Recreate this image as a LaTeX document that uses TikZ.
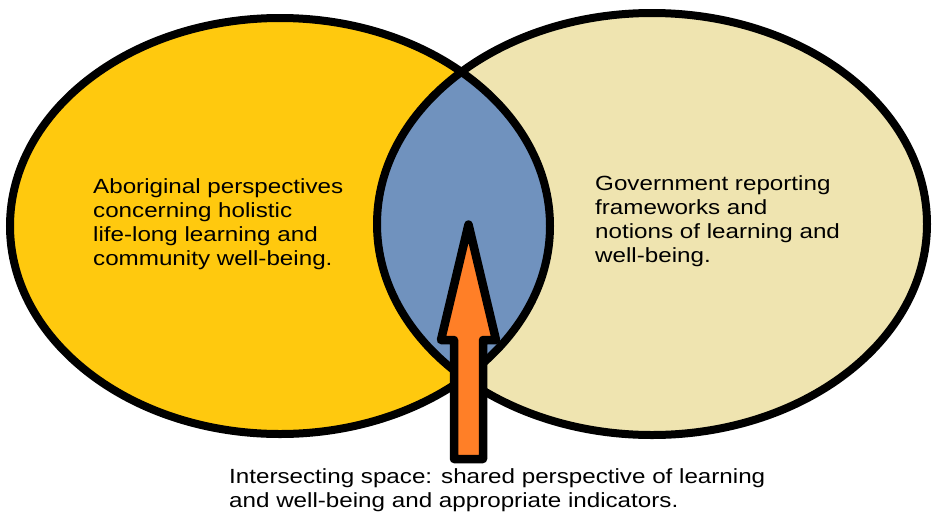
\documentclass[tikz,border=0pt]{standalone}
\usepackage{fontspec}
\setmainfont{Liberation Sans}[FakeStretch=1.18]
\definecolor{gold}{RGB}{255,201,14}
\definecolor{cream}{RGB}{239,228,176}
\definecolor{lens}{RGB}{112,146,190}
\definecolor{arroworange}{RGB}{255,127,39}
\begin{document}
\begin{tikzpicture}[x=1pt,y=-1pt,
  outline/.style={draw=black,line width=8pt},
  label/.style={anchor=north west,inner sep=0pt,align=left,
    font=\fontsize{20.5}{24.3}\selectfont,text=black}]
\useasboundingbox (0,0) rectangle (932,512);
% fills
\fill[gold] (280,226) ellipse [x radius=270,y radius=208];
\fill[cream] (652,224) ellipse [x radius=275,y radius=211];
\begin{scope}
  \clip (280,226) ellipse [x radius=270,y radius=208];
  \fill[lens] (652,224) ellipse [x radius=275,y radius=211];
\end{scope}
% outlines
\draw[outline] (280,226) ellipse [x radius=270,y radius=208];
\draw[outline] (652,224) ellipse [x radius=275,y radius=211];
% arrow
\draw[outline,line width=8.5pt,fill=arroworange,line join=round]
  (468.5,224.5) -- (496,340) -- (483,340) -- (483,459)
  -- (454,459) -- (454,340) -- (441,340) -- cycle;
% texts
\node[label] (left) at (93,178) {Aboriginal perspectives\\concerning holistic\\life-long learning and\\community well-being.};
\node[label] (right) at (595,175) {Government reporting\\frameworks and\\notions of learning and\\well-being.};
\node[label] (bottom) at (229,468) {Intersecting space: shared perspective of learning\\and well-being and appropriate indicators.};
\end{tikzpicture}
\end{document}
